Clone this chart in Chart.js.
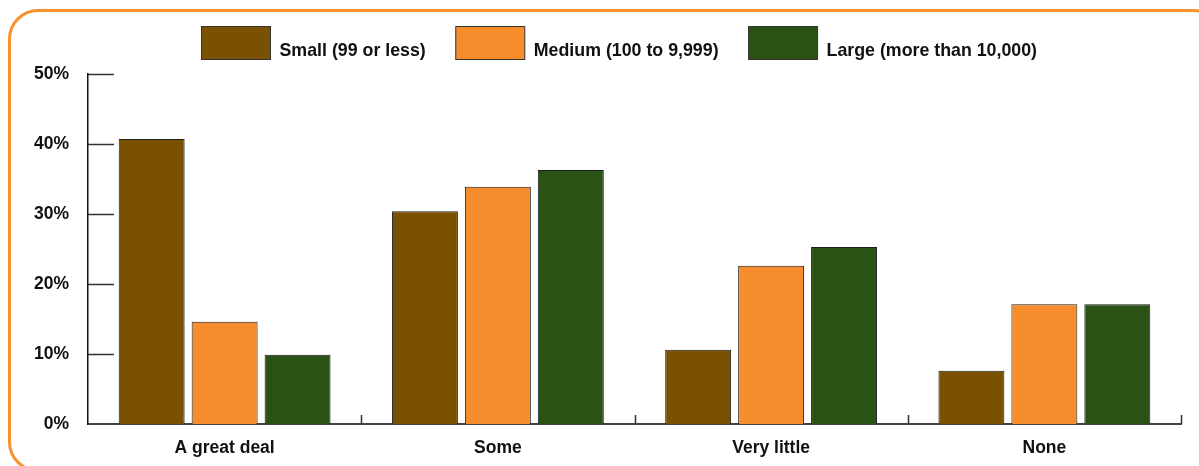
<!DOCTYPE html>
<html>
<head>
<meta charset="utf-8">
<script src="https://cdn.jsdelivr.net/npm/chart.js@4.4.1/dist/chart.umd.min.js"></script>
<style>
  html, body { margin: 0; padding: 0; background: #fff; overflow: hidden; }
  .wrap { position: relative; width: 1199px; height: 466px; overflow: hidden; }
  .frame {
    position: absolute; left: 8px; top: 9px; width: 1216px; height: 463px;
    box-sizing: border-box; border: 3px solid #f7922f; border-radius: 30px;
  }
  .box { position: absolute; left: 0; top: 0; width: 1199px; height: 466px; }
</style>
</head>
<body>
<div class="wrap">
  <div class="frame"></div>
  <div class="box"><canvas id="chart"></canvas></div>
</div>
<script>
const categories = ['A great deal', 'Some', 'Very little', 'None'];
const seriesNames = ['Small (99 or less)', 'Medium (100 to 9,999)', 'Large (more than 10,000)'];
const smallValues = [40.7, 30.4, 10.6, 7.6];
const mediumValues = [14.6, 33.9, 22.6, 17.1];
const largeValues = [9.9, 36.3, 25.3, 17.1];
const yTicks = [0, 10, 20, 30, 40, 50];

const colors = ['#7a5100', '#f68c2c', '#2a5214'];

Chart.defaults.font.family = "'Liberation Sans', Arial, sans-serif";
Chart.defaults.color = '#111';

// legend drawn by hand: big swatches, text sitting a bit low like the original
const boxLegend = {
  id: 'boxLegend',
  afterDraw(chart) {
    const ctx = chart.ctx;
    const sw = 69, sh = 33, gapText = 9, gapItem = 30;
    ctx.save();
    ctx.font = "bold 17.8px 'Liberation Sans', Arial, sans-serif";
    ctx.textBaseline = 'alphabetic';
    ctx.textAlign = 'left';
    let x = 201.5;
    chart.data.datasets.forEach(ds => {
      ctx.fillStyle = ds.backgroundColor;
      ctx.fillRect(x, 26.5, sw, sh);
      ctx.strokeStyle = '#333';
      ctx.lineWidth = 1;
      ctx.strokeRect(x, 26.5, sw, sh);
      ctx.fillStyle = '#111';
      ctx.fillText(ds.label, x + sw + gapText, 55.5);
      x += sw + gapText + ctx.measureText(ds.label).width + gapItem;
    });
    ctx.restore();
  }
};

// tick marks drawn inward like the original
const innerTicks = {
  id: 'innerTicks',
  afterDraw(chart) {
    const { ctx, chartArea, scales } = chart;
    ctx.save();
    ctx.strokeStyle = '#333';
    ctx.lineWidth = 1.5;
    ctx.beginPath();
    yTicks.slice(1).forEach(v => {
      const y = Math.round(scales.y.getPixelForValue(v)) + 0.5;
      ctx.moveTo(chartArea.left, y);
      ctx.lineTo(chartArea.left + 26, y);
    });
    const step = (chartArea.right - chartArea.left) / categories.length;
    for (let i = 1; i <= categories.length; i++) {
      const x = Math.round(chartArea.left + i * step) + 0.5;
      ctx.moveTo(x, chartArea.bottom);
      ctx.lineTo(x, chartArea.bottom - 9);
    }
    ctx.stroke();
    ctx.restore();
  }
};

const ctx = document.getElementById('chart').getContext('2d');
new Chart(ctx, {
  type: 'bar',
  data: {
    labels: categories,
    datasets: [smallValues, mediumValues, largeValues].map((vals, i) => ({
      label: seriesNames[i],
      data: vals,
      backgroundColor: colors[i],
      borderColor: '#1e1e1e',
      borderWidth: 1,
      barPercentage: 0.904,
      categoryPercentage: 0.801
    }))
  },
  options: {
    responsive: true,
    maintainAspectRatio: false,
    devicePixelRatio: 1,
    animation: false,
    layout: { padding: { top: 74, left: 0, right: 18, bottom: 0 } },
    plugins: {
      legend: { display: false },
      tooltip: { enabled: false }
    },
    scales: {
      x: {
        grid: { display: false, drawTicks: false },
        border: { display: true, color: '#444', width: 2 },
        ticks: { padding: 14, font: { size: 17.5, weight: 'bold' }, color: '#111' },
        afterFit(scale) { scale.height = 42; }
      },
      y: {
        min: 0,
        max: 50,
        grid: { display: false, drawTicks: false },
        border: { display: true, color: '#111', width: 1.5 },
        ticks: {
          stepSize: 10,
          padding: 19,
          font: { size: 17.5, weight: 'bold' },
          color: '#111',
          callback: v => v + '%'
        },
        afterFit(scale) { scale.width = 88; }
      }
    }
  },
  plugins: [boxLegend, innerTicks]
});
</script>
</body>
</html>
